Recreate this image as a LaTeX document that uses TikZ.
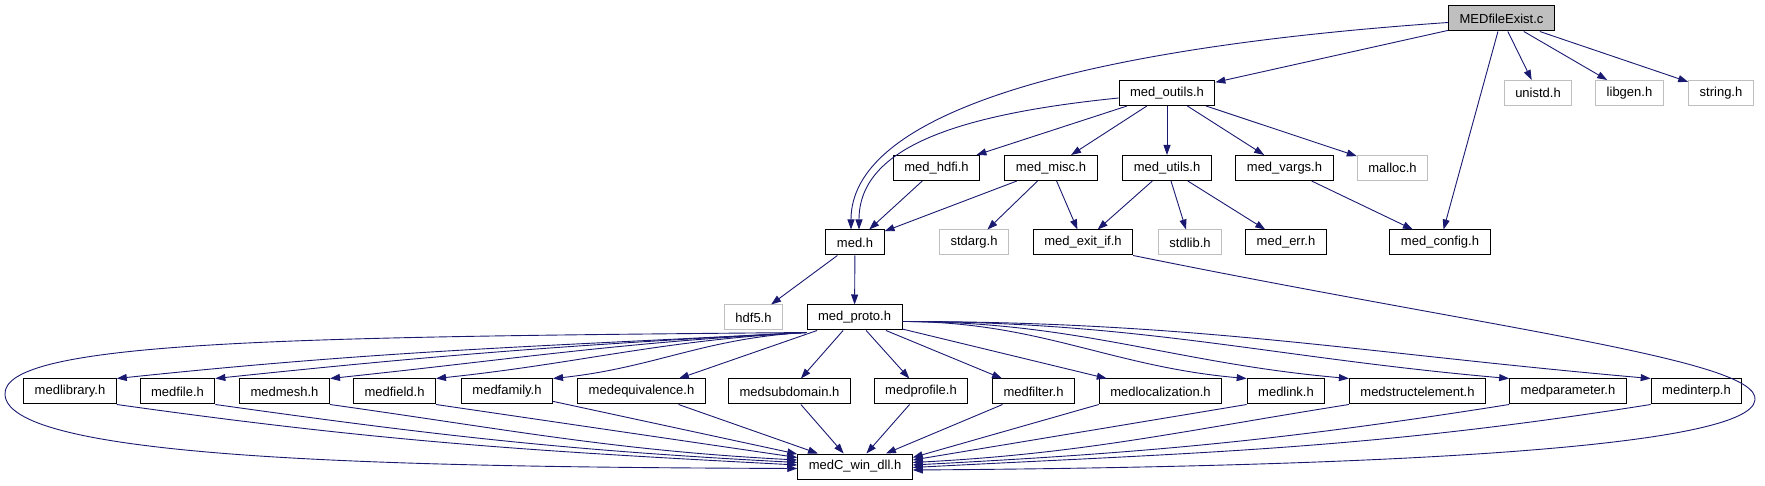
\documentclass[tikz,border=0pt]{standalone}
\usepackage{fontspec}
\setmainfont{Liberation Sans}
\usetikzlibrary{arrows.meta}
\definecolor{edgeblue}{HTML}{191970}
\definecolor{sysgray}{HTML}{BFBFBF}

\begin{document}
\begin{tikzpicture}[x=1pt, y=1pt, >={Triangle[length=10pt,width=7pt]},
    hdr/.style={draw=black, line width=1pt, minimum height=25pt, inner xsep=11pt, inner ysep=0pt, font=\fontsize{13}{15}\selectfont},
    sys/.style={hdr, draw=sysgray},
    edge/.style={->, color=edgeblue, line width=0.9pt}]
    \useasboundingbox (0,0) rectangle (1765,485);

    % Tệp nguồn và hàng đầu
    \node[hdr, fill=sysgray] (src) at (1501.5,466.5) {MEDfileExist.c};
    \node[hdr] (outils) at (1167,392) {med\_outils.h};
    \node[sys] (unistd) at (1538,392) {unistd.h};
    \node[sys] (libgen) at (1629.5,392) {libgen.h};
    \node[sys] (string) at (1721,392) {string.h};

    % Hàng thứ hai
    \node[hdr] (hdfi) at (936.5,317) {med\_hdfi.h};
    \node[hdr] (misc) at (1051,317) {med\_misc.h};
    \node[hdr] (utils) at (1167,317) {med\_utils.h};
    \node[hdr] (vargs) at (1284.5,317) {med\_vargs.h};
    \node[sys] (malloc) at (1392.5,317) {malloc.h};

    % Hàng thứ ba
    \node[hdr] (med) at (855,242.5) {med.h};
    \node[sys] (stdarg) at (974,242.5) {stdarg.h};
    \node[hdr] (exitif) at (1083,242.5) {med\_exit\_if.h};
    \node[sys] (stdlib) at (1190,242.5) {stdlib.h};
    \node[hdr] (err) at (1286,242.5) {med\_err.h};
    \node[hdr] (config) at (1440,242.5) {med\_config.h};

    \node[sys] (hdf5) at (753.5,167.5) {hdf5.h};
    \node[hdr] (proto) at (854.5,167.5) {med\_proto.h};

    % Hàng dưới cùng
    \foreach \n/\x/\lbl in {lib/70/medlibrary.h, file/177.5/medfile.h, mesh/284.5/medmesh.h,
        field/394.5/medfield.h, family/507/medfamily.h, equiv/641.5/medequivalence.h,
        subdom/789.5/medsubdomain.h, profile/921/medprofile.h, filter/1033.5/medfilter.h,
        local/1160.5/medlocalization.h, link/1286/medlink.h, struct/1417.5/medstructelement.h,
        param/1568/medparameter.h, interp/1696.5/medinterp.h}
        \node[hdr] (\n) at (\x,93.5) {\lbl};
    \node[hdr] (dll) at (855,18.5) {medC\_win\_dll.h};

    % Cạnh từ tệp nguồn
    \draw[edge] ([yshift=-4pt]src.west) .. controls (1050,435) and (851,365) .. ([xshift=-4pt]med.north);
    \draw[edge] (src) -- (outils);
    \draw[edge] (src) -- (config);
    \foreach \t in {unistd, libgen, string} \draw[edge] (src) -- (\t);

    % Cạnh từ med_outils.h
    \draw[edge] ([yshift=-5pt]outils.west) .. controls (950,370) and (859,335) .. ([xshift=4pt]med.north);
    \foreach \t in {hdfi, misc, utils, vargs, malloc} \draw[edge] (outils) -- (\t);

    \draw[edge] (hdfi) -- (med);
    \foreach \t in {med, stdarg, exitif} \draw[edge] (misc) -- (\t);
    \foreach \t in {exitif, stdlib, err} \draw[edge] (utils) -- (\t);
    \draw[edge] (vargs) -- (config);
    \draw[edge] (med) -- (hdf5);
    \draw[edge] (med) -- (proto);
    \draw[edge] (exitif.south east) .. controls (1500,155) and (1760,125) .. (1755,85)
        .. controls (1750,35) and (1350,18) .. ([yshift=-3.5pt]dll.east);

    % Cạnh từ med_proto.h
    \draw[edge] ([yshift=-2pt]proto.south west) .. controls (300,148) and (0,145) .. (5,90)
        .. controls (10,25) and (400,18) .. ([yshift=-2pt]dll.west);
    \foreach \n in {lib, file, mesh, field, family}
        \draw[edge] ([yshift=-2pt]proto.south west) to[out=183, in=6] (\n.north east);
    \foreach \n in {equiv, subdom, profile, filter, local} \draw[edge] (proto) -- (\n);
    \foreach \n in {link, struct, param, interp}
        \draw[edge] ([yshift=-4pt]proto.east) to[out=0, in=175] (\n.north west);

    % Cạnh tới medC_win_dll.h
    \foreach \n/\s in {lib/1.5, file/4, mesh/6.5}
        \draw[edge] (\n.south east) to[out=-8, in=177] ([yshift=\s pt]dll.west);
    \draw[edge] (field.south east) -- ([yshift=9pt]dll.west);
    \foreach \n in {family, equiv, subdom, profile, filter} \draw[edge] (\n) -- (dll);
    \draw[edge] (local.south west) -- ([yshift=9pt]dll.east);
    \draw[edge] (link.south west) -- ([yshift=6.5pt]dll.east);
    \foreach \n/\s in {struct/4, param/1.5, interp/-1}
        \draw[edge] (\n.south west) to[out=189, in=3] ([yshift=\s pt]dll.east);
\end{tikzpicture}
\end{document}
